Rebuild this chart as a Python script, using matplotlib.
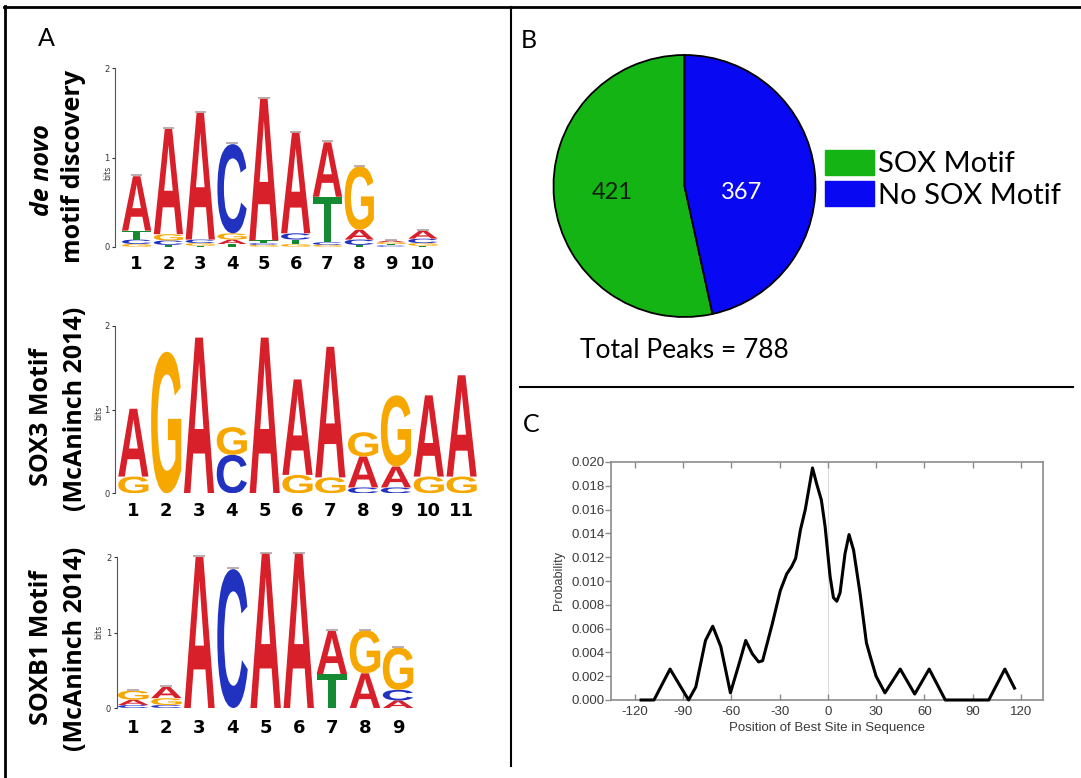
import matplotlib
matplotlib.use('Agg')
import matplotlib.pyplot as plt
from matplotlib.textpath import TextPath
from matplotlib.patches import PathPatch, Patch
from matplotlib.font_manager import FontProperties
from matplotlib.transforms import Affine2D
from matplotlib.lines import Line2D

# ---------------- data ----------------
# Panel A: sequence logos (bits per letter per position), stack order bottom->top
denovo_A = [0.61, 1.18, 1.42, 0.05, 1.59, 1.13, 0.61, 0.11, 0.02, 0.09]
denovo_C = [0.05, 0.05, 0.04, 1.00, 0.02, 0.07, 0.03, 0.06, 0.015, 0.05]
denovo_G = [0.03, 0.07, 0.03, 0.07, 0.02, 0.03, 0.02, 0.71, 0.02, 0.03]
denovo_T = [0.10, 0.02, 0.01, 0.03, 0.03, 0.05, 0.51, 0.02, 0.015, 0.01]
denovo_order = ["GCTA", "TCGA", "TGCA", "TAGC", "GCTA", "GTCA", "GCTA", "TCAG", "CTGA", "TGCA"]

sox3_A = [0.81, 0.0, 1.86, 0.0, 1.86, 1.14, 1.56, 0.37, 0.25, 0.97, 1.21]
sox3_C = [0.0, 0.0, 0.0, 0.46, 0.0, 0.0, 0.0, 0.07, 0.07, 0.0, 0.0]
sox3_G = [0.20, 1.69, 0.0, 0.33, 0.0, 0.22, 0.19, 0.29, 0.85, 0.20, 0.20]
sox3_T = [0.0] * 11
sox3_order = ["GA", "G", "A", "CG", "A", "GA", "GA", "CAG", "CAG", "GA", "GA"]

soxb1_A = [0.07, 0.15, 2.00, 0.0, 2.05, 2.05, 0.57, 0.46, 0.10]
soxb1_C = [0.04, 0.04, 0.0, 1.84, 0.0, 0.0, 0.0, 0.0, 0.14]
soxb1_G = [0.12, 0.09, 0.0, 0.0, 0.0, 0.0, 0.0, 0.57, 0.56]
soxb1_T = [0.0, 0.0, 0.0, 0.0, 0.0, 0.0, 0.45, 0.0, 0.0]
soxb1_order = ["CAG", "CGA", "A", "C", "A", "A", "TA", "AG", "ACG"]

# Panel B: pie
pie_labels = ["SOX Motif", "No SOX Motif"]
pie_values = [421, 367]
total_peaks = 788

# Panel C: positional distribution
pos_x = [-116, -108, -98, -86.5, -82, -76, -71.5, -66.5, -60.5, -55, -51, -47, -43, -40.5,
         -34.5, -29.5, -25.5, -22.5, -20, -17, -14, -9.5, -7, -4, -1.7, 1.4, 3.5, 5.6, 7.6,
         10.7, 13.2, 16, 20, 24, 26.5, 30, 35.5, 45, 54, 63, 73, 100, 110, 116]
prob_y = [0, 0, 0.0026, 0, 0.0011, 0.0050, 0.0062, 0.0045, 0.0006, 0.0031, 0.0050, 0.0039,
          0.0032, 0.0033, 0.0064, 0.0092, 0.0106, 0.0112, 0.0119, 0.0143, 0.0160, 0.0195,
          0.0182, 0.0168, 0.0146, 0.0104, 0.0086, 0.0083, 0.0090, 0.0123, 0.0139, 0.0126,
          0.0090, 0.0048, 0.0036, 0.0020, 0.0006, 0.0026, 0.0005, 0.0026, 0, 0, 0.0026, 0.0010]
x_ticks = [-120, -90, -60, -30, 0, 30, 60, 90, 120]
y_ticks = [0.000, 0.002, 0.004, 0.006, 0.008, 0.010, 0.012, 0.014, 0.016, 0.018, 0.020]

# ---------------- styling ----------------
W, H = 1081, 778
fig = plt.figure(figsize=(W / 100, H / 100), dpi=100)
fig.patch.set_facecolor('white')


def rect(x0, y0, x1, y1):
    return [x0 / W, 1 - y1 / H, (x1 - x0) / W, (y1 - y0) / H]


def fx(x):
    return x / W


def fy(y):
    return 1 - y / H


letter_colors = {'A': '#d7202a', 'C': '#2232c0', 'G': '#f6a800', 'T': '#148a32'}
logo_fp = FontProperties(family='Liberation Sans', weight='bold')


def draw_letter(ax, ch, xc, y0, w, h, color):
    tp = TextPath((0, 0), ch, size=1, prop=logo_fp)
    bb = tp.get_extents()
    t = (Affine2D().translate(-bb.x0, -bb.y0)
         .scale(w / bb.width, h / bb.height)
         .translate(xc - w / 2, y0))
    ax.add_patch(PathPatch(t.transform_path(tp), facecolor=color, edgecolor='none'))


def draw_logo(px, xleft, heights, order, caps, numpad, bits_xy):
    ax = fig.add_axes(rect(*px))
    n = len(order)
    ax.set_xlim(xleft, n + 0.5)
    ax.set_ylim(0, 2.1)
    for i in range(n):
        base = 0.0
        for ch in order[i]:
            h = heights[ch][i]
            if h <= 0:
                continue
            draw_letter(ax, ch, i + 1, base, 0.92, h, letter_colors[ch])
            base += h
        if caps:
            ax.plot([i + 1 - 0.18, i + 1 + 0.18], [base + 0.01, base + 0.01],
                    color='#b0a0a0', lw=1.2, solid_capstyle='butt')
    for s in ['top', 'right', 'bottom']:
        ax.spines[s].set_visible(False)
    ax.spines['left'].set_bounds(0, 2)
    ax.spines['left'].set_color('#555555')
    ax.spines['left'].set_linewidth(0.8)
    ax.set_yticks([0, 1, 2])
    ax.set_yticklabels(['0', '1', '2'])
    ax.tick_params(axis='y', labelsize=6, length=2.5, width=0.8, pad=1.5,
                   colors='#333333')
    ax.set_xticks(range(1, n + 1))
    ax.set_xticklabels([str(i) for i in range(1, n + 1)], fontsize=13,
                       fontweight='bold', family='DejaVu Sans')
    ax.tick_params(axis='x', length=0, pad=numpad)
    ax.patch.set_alpha(0)
    fig.text(fx(bits_xy[0]), fy(bits_xy[1]), 'bits', rotation=90, fontsize=5.5,
             ha='center', va='center', color='#333333')
    return ax


draw_logo((115, 59.4, 438.8, 246.7), 0.32,
          {'A': denovo_A, 'C': denovo_C, 'G': denovo_G, 'T': denovo_T},
          denovo_order, True, 6, (108, 173))
draw_logo((115, 317.5, 478, 493.3), 0.44,
          {'A': sox3_A, 'C': sox3_C, 'G': sox3_G, 'T': sox3_T},
          sox3_order, False, 6, (99, 413))
draw_logo((116.7, 549.5, 414.6, 708), 0.5,
          {'A': soxb1_A, 'C': soxb1_C, 'G': soxb1_G, 'T': soxb1_T},
          soxb1_order, True, 8, (99, 632))

lab_kw = dict(rotation=90, ha='center', va='center', fontsize=18,
              family='Open Sans', weight='bold', color='black')
fig.text(fx(42.5), fy(170), 'de novo', style='italic', **lab_kw)
fig.text(fx(74), fy(166), 'motif discovery', **lab_kw)
fig.text(fx(42), fy(417), 'SOX3 Motif', **lab_kw)
fig.text(fx(76), fy(409), '(McAninch 2014)', **lab_kw)
fig.text(fx(42), fy(648), 'SOXB1 Motif', **lab_kw)
fig.text(fx(76), fy(649), '(McAninch 2014)', **lab_kw)

# ---------------- Panel B ----------------
pie_colors = ['#14b414', '#0808f2']
axp = fig.add_axes(rect(553.5, 55, 815.5, 317))
axp.pie(pie_values, colors=pie_colors, startangle=90, counterclock=True,
        wedgeprops=dict(edgecolor='black', linewidth=1.3))
axp.set_xlim(-1.0, 1.0)
axp.set_ylim(-1.0, 1.0)
for w in axp.patches:
    w.set_clip_on(False)
axp.text(-0.553, -0.053, str(pie_values[0]), ha='center', va='center', fontsize=17,
         family='Lato', color='#102010')
axp.text(0.439, -0.053, str(pie_values[1]), ha='center', va='center', fontsize=17,
         family='Lato', color='white')
handles = [Patch(facecolor=c, edgecolor=c) for c in pie_colors]
axp.legend(handles, pie_labels, loc='upper left',
           bbox_to_anchor=(fx(825), fy(150)), bbox_transform=fig.transFigure,
           frameon=False, prop=FontProperties(family='Lato', size=21),
           handlelength=1.68, handleheight=0.92, handletextpad=0.14,
           labelspacing=0.14, borderpad=0, borderaxespad=0)
fig.text(fx(684.5), fy(350), 'Total Peaks = %d' % total_peaks, ha='center', va='center',
         fontsize=19, family='Lato', color='black')

# ---------------- Panel C ----------------
axc = fig.add_axes(rect(611, 462, 1043, 700))
axc.axvline(0, color='#dddddd', lw=0.8, zorder=0)
axc.plot(pos_x, prob_y, color='black', lw=2.2, solid_joinstyle='round', clip_on=False,
         zorder=3)
axc.set_xlim(-134.7, 133.7)
axc.set_ylim(0, 0.020)
axc.set_xticks(x_ticks)
axc.set_xticklabels([str(v) for v in x_ticks])
axc.set_yticks(y_ticks)
axc.set_yticklabels(['%.3f' % v for v in y_ticks])
for s in axc.spines.values():
    s.set_color('#8c8c8c')
    s.set_linewidth(1.2)
axc.tick_params(axis='x', bottom=True, top=True, direction='in', length=4,
                width=1, colors='#8c8c8c', labelcolor='#3a3a3a', labelsize=9.5, pad=4)
axc.tick_params(axis='y', left=True, direction='out', length=4, width=1,
                colors='#8c8c8c', labelcolor='#3a3a3a', labelsize=9.5, pad=0.5)
for lab in axc.get_xticklabels() + axc.get_yticklabels():
    lab.set_family('Liberation Sans')
axc.set_xlabel('Position of Best Site in Sequence', fontsize=9.5, family='Liberation Sans',
               color='#3a3a3a', labelpad=3)
axc.set_ylabel('Probability', fontsize=9, family='Liberation Sans', color='#3a3a3a',
               labelpad=5)

# ---------------- panel labels and frame ----------------
fig.text(fx(46), fy(38), 'A', ha='center', va='center', fontsize=18, family='Lato')
fig.text(fx(529), fy(40), 'B', ha='center', va='center', fontsize=18, family='Lato')
fig.text(fx(531), fy(425), 'C', ha='center', va='center', fontsize=18, family='Lato')

fig.add_artist(Line2D([fx(4), fx(1081)], [fy(7), fy(7)], color='black', lw=2))
fig.add_artist(Line2D([fx(5), fx(5)], [fy(6), fy(778)], color='black', lw=2))
fig.add_artist(Line2D([fx(511), fx(511)], [fy(7), fy(766)], color='black', lw=1.5))
fig.add_artist(Line2D([fx(520), fx(1073)], [fy(387), fy(387)], color='black', lw=1.5))

fig.savefig('out.png', dpi=100)
